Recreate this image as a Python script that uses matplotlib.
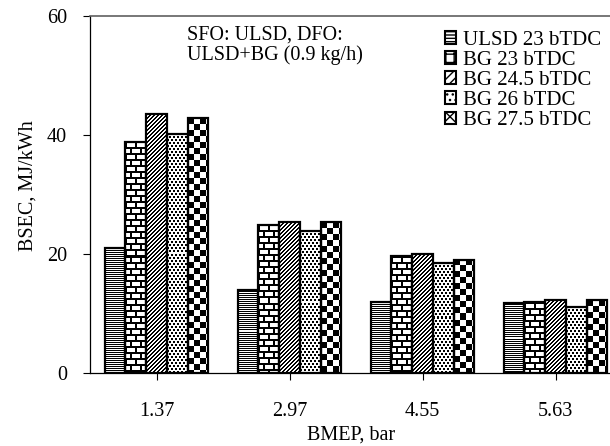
import matplotlib
matplotlib.use("Agg")
import matplotlib.pyplot as plt
import numpy as np
from matplotlib.patches import Patch

plt.rcParams["font.family"] = ["Liberation Serif", "DejaVu Serif"]

# ---- data --------------------------------------------------------------------
bmep = ["1.37", "2.97", "4.55", "5.63"]
series = ["ULSD 23 bTDC", "BG 23 bTDC", "BG 24.5 bTDC", "BG 26 bTDC", "BG 27.5 bTDC"]
ulsd_23 = [21.0, 14.0, 11.9, 11.8]
bg_23 = [38.9, 24.9, 19.6, 11.9]
bg_24_5 = [43.5, 25.3, 20.0, 12.2]
bg_26 = [40.2, 23.9, 18.5, 11.1]
bg_27_5 = [42.8, 25.3, 19.0, 12.2]
values = [ulsd_23, bg_23, bg_24_5, bg_26, bg_27_5]

textures = ["horiz", "brick", "diag", "dots", "checker"]
legend_hatch = ["-----", "++", "////", "...", "xx"]


def texture(kind, h, w):
    """pixel fill pattern, 1 = white, 0 = black"""
    r, c = np.mgrid[0:h, 0:w]
    if kind == "horiz":
        black = r % 2 == 0
    elif kind == "brick":
        shift = ((r // 6) % 2) * 5
        black = (r % 6 < 2) | (((c + shift) % 10) < 2)
    elif kind == "diag":
        black = (c + r) % 4 < 2
    elif kind == "dots":
        shift = ((r // 3) % 2) * 2
        black = (r % 3 < 2) & (((c + shift) % 4) < 2)
    else:
        black = ((r // 6) + (c // 6)) % 2 == 0
    return np.where(black, 0.0, 1.0)


def main():
    dpi = 100
    fs = 14.5
    fig = plt.figure(figsize=(6.10, 4.46), dpi=dpi)
    ax = fig.add_axes([90 / 610, 1 - 373 / 446, 532 / 610, 357 / 446])

    x = np.arange(len(bmep))
    width = 0.156
    offsets = (np.arange(len(series)) - 2) * width

    ax.set_xlim(-0.5, 3.5)
    ax.set_ylim(0, 60)

    for vals, off, kind in zip(values, offsets, textures):
        bars = ax.bar(x + off, vals, width, facecolor="none", edgecolor="black",
                      linewidth=1.6, zorder=3)
        for b in bars:
            x0, y0 = b.get_x(), b.get_y()
            x1, y1 = x0 + b.get_width(), y0 + b.get_height()
            p0 = ax.transData.transform((x0, y0))
            p1 = ax.transData.transform((x1, y1))
            w_px = max(int(round(p1[0] - p0[0])), 1)
            h_px = max(int(round(p1[1] - p0[1])), 1)
            img = ax.imshow(texture(kind, h_px, w_px), cmap="gray", vmin=0, vmax=1,
                            extent=(x0, x1, y0, y1), interpolation="nearest",
                            aspect="auto", zorder=2)
            img.set_clip_path(b)

    ax.set_xlim(-0.5, 3.5)
    ax.set_ylim(0, 60)
    ax.set_xticks(x)
    ax.set_xticklabels(bmep)
    ax.set_yticks([0, 20, 40, 60])
    ax.tick_params(axis="x", direction="out", length=5, width=0.8, pad=16, labelsize=fs)
    ax.tick_params(axis="y", direction="out", length=5, width=0.8, pad=11.5, labelsize=fs)
    ax.spines["right"].set_visible(False)
    ax.spines["top"].set_color("#606060")
    ax.spines["top"].set_linewidth(1.2)
    for side in ["left", "bottom"]:
        ax.spines[side].set_linewidth(0.9)

    fig.text(28 / 610, 1 - 186 / 446, "BSEC, MJ/kWh", rotation=90,
             ha="center", va="center", fontsize=fs)
    fig.text(351 / 610, 1 - 435 / 446, "BMEP, bar", ha="center", va="center",
             fontsize=fs)
    fig.text(187 / 610, 1 - 26 / 446, "SFO: ULSD, DFO:\nULSD+BG (0.9 kg/h)",
             ha="left", va="top", fontsize=fs, linespacing=1.0)

    handles = [Patch(facecolor="white", edgecolor="black", hatch=h, linewidth=1.5)
               for h in legend_hatch]
    ax.legend(handles, series, loc="upper left", bbox_to_anchor=(445 / 610, 1 - 31 / 446),
              bbox_transform=fig.transFigure, frameon=False, fontsize=15,
              handlelength=0.55, handleheight=0.55, handletextpad=0.3,
              labelspacing=0.05, borderpad=0, borderaxespad=0)

    fig.savefig("out.png", dpi=dpi)
    plt.close(fig)


if __name__ == "__main__":
    main()
